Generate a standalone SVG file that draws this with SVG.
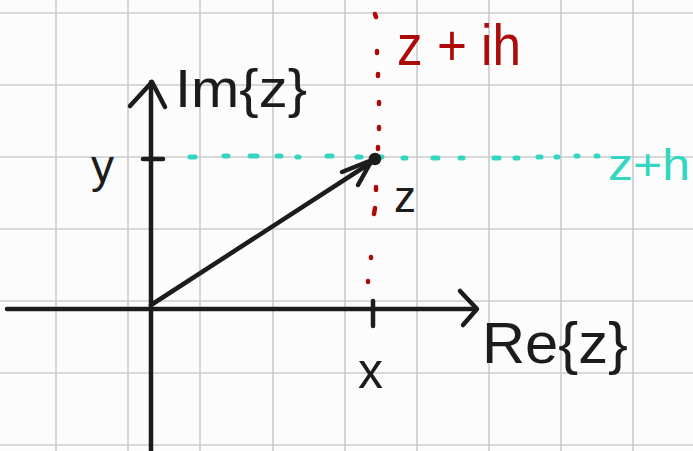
<svg xmlns="http://www.w3.org/2000/svg" width="693" height="451" viewBox="0 0 693 451">
<style>
.grid{stroke:#cbcbcb;stroke-width:1.6;fill:none}
.ax{stroke:#1c1c1c;stroke-width:4.5;fill:none;stroke-linecap:round;stroke-linejoin:round}
.rd{stroke:#ad0a0a;stroke-width:4.5;stroke-linecap:round;fill:none}
.cy{stroke:#33d6c1;stroke-width:5;stroke-linecap:round;fill:none}
.t{font-family:"Liberation Sans",Arial,sans-serif}
.tb{fill:#1c1c1c}
.tr{fill:#ad0a0a}
.tc{fill:#33d6c1}
</style>
<rect width="693" height="451" fill="#fcfcfc"/>
<g id="grid" class="grid">
<path d="M56 0V451M128 0V451M200 0V451M273 0V451M345 0V451M417 0V451M489 0V451M561 0V451M633 0V451"/>
<path d="M0 13H693M0 85H693M0 157H693M0 229H693M0 301H693M0 373H693M0 445H693"/>
</g>
<g id="connectors">
<g id="red-guide" class="rd">
<path d="M375 14l1 3M377 51l0 2M378 74l0 2M379 102l0 2M379 127l0 2M378 147l0 2M376 187l0 3M375 208l-1 6M371 257l0 1M368 281l0 1"/>
</g>
<g id="cyan-guide" class="cy">
<path d="M190 157h5M224 156h4M250 156h7M277 156h4M297 157h2M327 156h5M357 157h4M378 157h4M403 158h3M433 158h5M460 158h3M494 158h5M515 158h3M538 157h3M556 157h2M576 156h2M596 156h2"/>
</g>
<g id="y-axis" class="ax">
<path d="M151 451V82"/>
<path d="M130 106L152 82L165 107"/>
<path d="M143 159H163"/>
</g>
<g id="x-axis" class="ax">
<path d="M7 309H476"/>
<path d="M460 291L477 309L463 325"/>
<path d="M373 301V326"/>
</g>
<g id="vector" class="ax">
<path d="M151 305L375 160"/>
<path d="M342 172L372 160L358 185"/>
<circle cx="375" cy="159" r="4" fill="#1c1c1c"/>
</g>
</g>
<g id="label-im">
<text class="t tb" x="175" y="107" font-size="54" textLength="132" lengthAdjust="spacingAndGlyphs">Im{z}</text>
</g>
<g id="label-re">
<text class="t tb" x="482" y="363" font-size="58" textLength="146" lengthAdjust="spacingAndGlyphs">Re{z}</text>
</g>
<g id="label-zih">
<text class="t tr" x="397" y="65" font-size="58" textLength="124" lengthAdjust="spacingAndGlyphs">z + ih</text>
</g>
<g id="label-zh">
<text class="t tc" x="608" y="180" font-size="44" textLength="82" lengthAdjust="spacingAndGlyphs">z+h</text>
</g>
<g id="label-z">
<text class="t tb" x="394" y="212" font-size="44">z</text>
</g>
<g id="label-y">
<text class="t tb" x="91" y="182" font-size="46">y</text>
</g>
<g id="label-x">
<text class="t tb" x="358" y="388" font-size="50">x</text>
</g>
</svg>
